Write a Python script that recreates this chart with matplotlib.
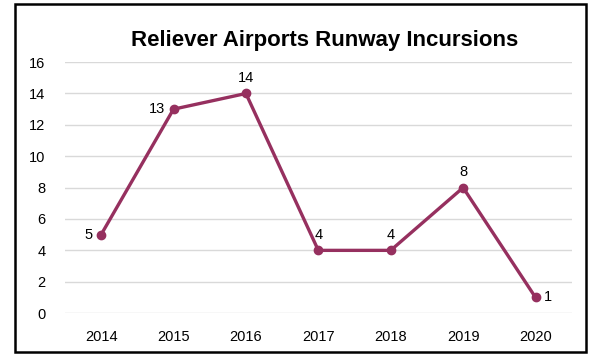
import matplotlib.pyplot as plt
from matplotlib.patches import Rectangle

# data
years = ['2014', '2015', '2016', '2017', '2018', '2019', '2020']
incursions = [5, 13, 14, 4, 4, 8, 1]
label_pos = ['left', 'left', 'top', 'top', 'top', 'top', 'right']

plt.rcParams['font.family'] = ['Liberation Sans', 'DejaVu Sans']
color = '#96305F'

fig = plt.figure(figsize=(5.9, 3.55), dpi=100)
ax = fig.add_axes([0.110, 0.118, 0.859, 0.707])

x = list(range(len(years)))
ax.plot(x, incursions, color=color, linewidth=2.4, marker='o', markersize=6, zorder=3)

for xi, yi, pos in zip(x, incursions, label_pos):
    if pos == 'left':
        ax.annotate(str(yi), (xi, yi), xytext=(-6, 0), textcoords='offset points',
                    ha='right', va='center', fontsize=10.5)
    elif pos == 'right':
        ax.annotate(str(yi), (xi, yi), xytext=(6, 0), textcoords='offset points',
                    ha='left', va='center', fontsize=10.5)
    else:
        ax.annotate(str(yi), (xi, yi), xytext=(0, 6), textcoords='offset points',
                    ha='center', va='bottom', fontsize=10.5)

ax.set_xlim(-0.5, len(years) - 0.5)
ax.set_ylim(0, 16)
ax.set_yticks(range(0, 17, 2))
ax.set_xticks(x)
ax.set_xticklabels(years)
ax.tick_params(axis='both', length=0, labelsize=10.5, pad=12)
ax.tick_params(axis='y', pad=14)
ax.grid(axis='y', color='#d9d9d9', linewidth=1)
ax.set_axisbelow(True)
for s in ax.spines.values():
    s.set_visible(False)

fig.text(0.551, 0.886, 'Reliever Airports Runway Incursions',
         ha='center', va='center', fontsize=16, fontweight='bold')

# outer border
fig.patches.append(Rectangle((15 / 590, 3 / 355), 571 / 590, 348 / 355,
                             transform=fig.transFigure, fill=False,
                             edgecolor='black', linewidth=1.8))

fig.savefig('out.png', dpi=100)
